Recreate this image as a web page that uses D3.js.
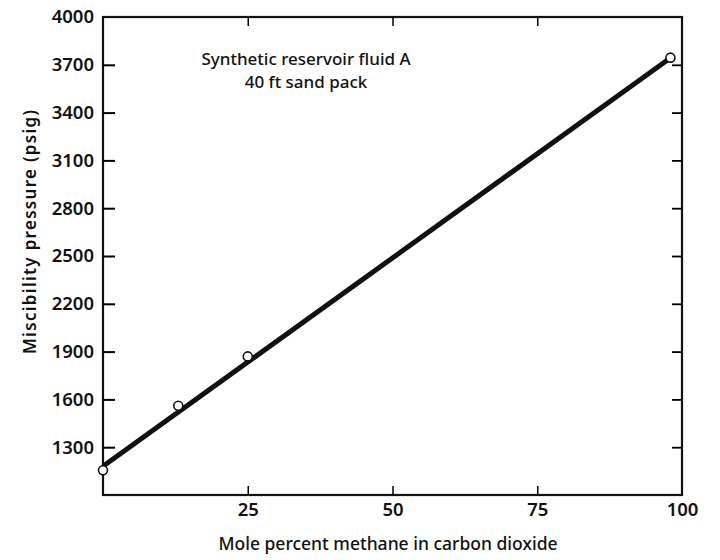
<!DOCTYPE html>
<html><head><meta charset="utf-8">
<script src="https://cdn.jsdelivr.net/npm/d3@7"></script>
<style>body{margin:0;background:#fff}text{font-family:"Noto Sans",sans-serif;fill:#111}</style>
</head><body>
<svg id="c" width="720" height="560"></svg>
<script>
const xTicks = [25, 50, 75, 100];
const yTicks = [1300, 1600, 1900, 2200, 2500, 2800, 3100, 3400, 3700, 4000];
const pointX = [0, 13, 25, 98];
const pointY = [1155, 1560, 1870, 3745];
const lineX = [0, 97.5];
const lineY = [1180, 3730];
const xTitle = "Mole percent methane in carbon dioxide";
const yTitle = "Miscibility pressure (psig)";
const note = ["Synthetic reservoir fluid A", "40 ft sand pack"];

const svg = d3.select("#c");
const L = 103, R = 682, T = 17, B = 495;
const x = d3.scaleLinear().domain([0, 100]).range([L, R]);
const y = d3.scaleLinear().domain([1000, 4000]).range([B, T]);

// frame
svg.append("rect").attr("x", L).attr("y", T).attr("width", R - L).attr("height", B - T)
  .attr("fill", "none").attr("stroke", "#111").attr("stroke-width", 2.2);

// axes
const ax = svg.append("g").attr("transform", `translate(0,${B})`)
  .call(d3.axisBottom(x).tickValues(xTicks).tickFormat(d3.format("d")).tickSizeInner(-9).tickSizeOuter(0).tickPadding(8));
ax.select(".domain").remove();
ax.selectAll("text").attr("font-size", 18.5).attr("font-weight", 600);
ax.selectAll("line").attr("stroke-width", 1.5);
ax.selectAll(".tick").filter(d => d === 100).select("line").remove();

const axT = svg.append("g").attr("transform", `translate(0,${T})`)
  .call(d3.axisTop(x).tickValues([25, 50, 75]).tickSizeInner(-9).tickSizeOuter(0).tickFormat(""));
axT.select(".domain").remove();
axT.selectAll("line").attr("stroke-width", 1.5);

const ay = svg.append("g").attr("transform", `translate(${L},0)`)
  .call(d3.axisLeft(y).tickValues(yTicks).tickFormat(d3.format("d")).tickSizeInner(-12).tickSizeOuter(0).tickPadding(9));
ay.select(".domain").remove();
ay.selectAll("text").attr("font-size", 18.5).attr("font-weight", 600);
ay.selectAll("line").attr("stroke-width", 2);
ay.selectAll(".tick").filter(d => d === 4000).select("line").remove();

const ayR = svg.append("g").attr("transform", `translate(${R},0)`)
  .call(d3.axisRight(y).tickValues(yTicks.filter(v => v < 4000)).tickSizeInner(-10).tickSizeOuter(0).tickFormat(""));
ayR.select(".domain").remove();
ayR.selectAll("line").attr("stroke-width", 1.8);

// fit line
const ld = lineX.map((v, i) => [v, lineY[i]]);
svg.append("path").datum(ld)
  .attr("d", d3.line().x(d => x(d[0])).y(d => y(d[1])))
  .attr("stroke", "#111").attr("stroke-width", 5).attr("fill", "none");

// points
svg.append("g").selectAll("circle").data(pointX.map((v, i) => [v, pointY[i]])).join("circle")
  .attr("cx", d => x(d[0])).attr("cy", d => y(d[1])).attr("r", 4.5)
  .attr("fill", "#fff").attr("stroke", "#111").attr("stroke-width", 1.6);

// titles
svg.append("text").attr("x", 388).attr("y", 550).attr("text-anchor", "middle")
  .attr("font-size", 17.5).attr("font-weight", 500).text(xTitle);
svg.append("text").attr("transform", `translate(36,232) rotate(-90)`)
  .attr("text-anchor", "middle").attr("font-size", 17).attr("font-weight", 600)
  .attr("textLength", 244).attr("lengthAdjust", "spacing").text(yTitle);

svg.append("g").selectAll("text").data(note).join("text")
  .attr("x", 306).attr("y", (d, i) => 65 + i * 23).attr("text-anchor", "middle")
  .attr("font-size", 17).attr("font-weight", 500).text(d => d);
</script>
</body></html>
